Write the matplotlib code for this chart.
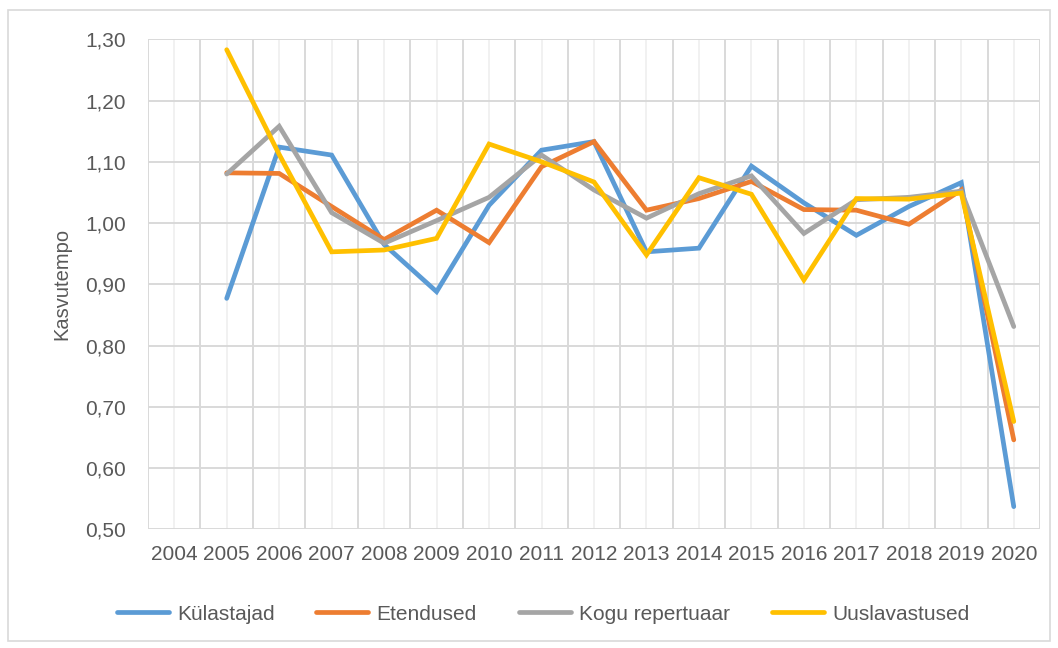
import numpy as np
import matplotlib
matplotlib.use('Agg')
import matplotlib.pyplot as plt
from matplotlib.patches import Rectangle

plt.rcParams['font.family'] = ['Liberation Sans', 'DejaVu Sans']

# Data
years = ['2004', '2005', '2006', '2007', '2008', '2009', '2010', '2011', '2012',
         '2013', '2014', '2015', '2016', '2017', '2018', '2019', '2020']
kulastajad = [np.nan, 0.877, 1.124, 1.111, 0.965, 0.888, 1.029, 1.119, 1.133,
              0.953, 0.959, 1.093, 1.033, 0.980, 1.027, 1.066, 0.537]
etendused = [np.nan, 1.082, 1.081, 1.027, 0.973, 1.021, 0.968, 1.092, 1.133,
             1.021, 1.040, 1.068, 1.022, 1.021, 0.998, 1.054, 0.646]
kogu_repertuaar = [np.nan, 1.080, 1.158, 1.017, 0.967, 1.004, 1.042, 1.111, 1.054,
                   1.008, 1.048, 1.077, 0.983, 1.038, 1.042, 1.052, 0.831]
uuslavastused = [np.nan, 1.283, 1.112, 0.953, 0.956, 0.975, 1.129, 1.100, 1.067,
                 0.948, 1.074, 1.047, 0.907, 1.040, 1.039, 1.049, 0.676]
series_names = ['Külastajad', 'Etendused', 'Kogu repertuaar', 'Uuslavastused']
yticks = [0.5, 0.6, 0.7, 0.8, 0.9, 1.0, 1.1, 1.2, 1.3]
ytick_labels = ['0,50', '0,60', '0,70', '0,80', '0,90', '1,00', '1,10', '1,20', '1,30']

colors = ['#5B9BD5', '#ED7D31', '#A5A5A5', '#FFC000']
text_color = '#595959'

fig = plt.figure(figsize=(10.58, 6.48), dpi=100)
fig.patches.append(Rectangle((8 / 1058, 1 - 641 / 648), 1042 / 1058, 631 / 648,
                             transform=fig.transFigure, fill=False,
                             edgecolor='#D9D9D9', linewidth=1.2))

ax = fig.add_axes([148 / 1058, 1 - 529.3 / 648, 892 / 1058, 490 / 648])
x = np.arange(len(years))

for vals, name, c in zip([kulastajad, etendused, kogu_repertuaar, uuslavastused],
                         series_names, colors):
    ax.plot(x, vals, color=c, lw=3.4, label=name, solid_joinstyle='miter',
            solid_capstyle='round')

ax.set_xlim(-0.5, len(years) - 0.5)
ax.set_ylim(0.5, 1.3)

# major vertical gridlines between categories, minor ones at category centres
for b in np.arange(-0.5, len(years), 1.0):
    ax.axvline(b, color='#D9D9D9', lw=1.4, zorder=0)
for c in x:
    ax.axvline(c, color='#EFEFEF', lw=1.2, zorder=0)
for t in yticks:
    ax.axhline(t, color='#D9D9D9', lw=1.4, zorder=0)

ax.set_xticks(x)
ax.set_xticklabels(years)
ax.set_yticks(yticks)
ax.set_yticklabels(ytick_labels)
ax.tick_params(axis='both', length=0, labelsize=15, colors=text_color)
ax.tick_params(axis='y', pad=16)
ax.tick_params(axis='x', pad=11)
for s in ax.spines.values():
    s.set_visible(False)

ax.set_ylabel('Kasvutempo', fontsize=14.5, color=text_color, labelpad=10)

fig.legend(loc='center', bbox_to_anchor=(543 / 1058, 1 - 614 / 648), ncol=4,
           frameon=False, fontsize=15, labelcolor=text_color, handlelength=2.5,
           handletextpad=0.4, columnspacing=2.0)

fig.savefig('out.png', dpi=100)
